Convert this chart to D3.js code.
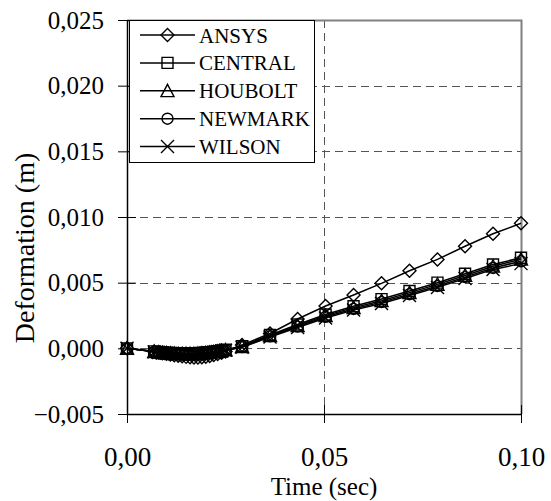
<!DOCTYPE html>
<html><head><meta charset="utf-8">
<script src="https://cdn.jsdelivr.net/npm/d3@7"></script>
<style>body{margin:0;background:#fff;} svg{display:block;} text{font-family:"Liberation Serif","Times New Roman",Times,serif;}</style>
</head><body>
<svg id="c" width="551" height="501"></svg>
<script>
const seriesNames = ["ANSYS","CENTRAL","HOUBOLT","NEWMARK","WILSON"];
const markerTypes = ["diamond","square","triangle","circle","cross"];
const time = [0, 0.0069,
              0.008, 0.009, 0.010, 0.011, 0.012, 0.013, 0.014, 0.015, 0.016, 0.017, 0.018, 0.019, 0.020, 0.021, 0.022, 0.023, 0.024, 0.025,
              0.0292, 0.0363, 0.0433, 0.0504, 0.0575, 0.0646, 0.0717, 0.0788, 0.0858, 0.0929, 0.1000];
const ansys   = [0, -0.00025,
                 -0.00032, -0.00037, -0.00042, -0.00047, -0.00052, -0.00057, -0.00061, -0.00065, -0.00068, -0.00070, -0.00070, -0.00068, -0.00064, -0.00058, -0.00051, -0.00043, -0.00034, -0.00024,
                 0.00025, 0.00113, 0.00223, 0.00322, 0.00406, 0.00495, 0.00591, 0.00677, 0.00777, 0.00872, 0.00952];
const central = [0, -0.00023,
                 -0.00028, -0.00031, -0.00034, -0.00036, -0.00038, -0.00039, -0.00040, -0.00040, -0.00040, -0.00039, -0.00037, -0.00035, -0.00032, -0.00029, -0.00025, -0.00021, -0.00016, -0.00011,
                 0.00016, 0.00102, 0.00182, 0.00258, 0.00320, 0.00375, 0.00436, 0.00500, 0.00568, 0.00638, 0.00690];
const houbolt = [0, -0.00025,
                 -0.00030, -0.00033, -0.00036, -0.00038, -0.00040, -0.00041, -0.00042, -0.00042, -0.00042, -0.00041, -0.00039, -0.00037, -0.00034, -0.00031, -0.00027, -0.00023, -0.00018, -0.00013,
                 0.00013, 0.00097, 0.00173, 0.00249, 0.00310, 0.00363, 0.00424, 0.00487, 0.00555, 0.00625, 0.00678];
const newmark = [0, -0.00026,
                 -0.00031, -0.00034, -0.00037, -0.00039, -0.00041, -0.00042, -0.00043, -0.00043, -0.00043, -0.00042, -0.00040, -0.00038, -0.00035, -0.00032, -0.00028, -0.00024, -0.00019, -0.00014,
                 0.00010, 0.00091, 0.00165, 0.00240, 0.00300, 0.00352, 0.00412, 0.00474, 0.00542, 0.00612, 0.00663];
const wilson  = [0, -0.00027,
                 -0.00032, -0.00035, -0.00038, -0.00040, -0.00042, -0.00043, -0.00044, -0.00044, -0.00044, -0.00043, -0.00041, -0.00039, -0.00036, -0.00033, -0.00029, -0.00025, -0.00020, -0.00015,
                 0.00008, 0.00086, 0.00158, 0.00231, 0.00291, 0.00342, 0.00402, 0.00464, 0.00532, 0.00601, 0.00645];
const seriesValues = [ansys, central, houbolt, newmark, wilson];
const yTicks = [-0.005, 0.000, 0.005, 0.010, 0.015, 0.020, 0.025];
const xTicks = [0.00, 0.05, 0.10];
const yTitle = "Deformation (m)";
const xTitle = "Time (sec)";

const svg = d3.select("#c");
const L = 127, R = 521, T = 20, B = 414;
const x = d3.scaleLinear().domain([0, 0.1]).range([L, R]);
const y = d3.scaleLinear().domain([-0.005, 0.025]).range([B, T]);
const font = "Liberation Serif";

// gridlines
const grid = svg.append("g");
grid.selectAll("line.h").data(yTicks.filter(v => v > -0.005 && v < 0.025)).join("line")
  .attr("x1", L).attr("x2", R).attr("y1", d => Math.round(y(d)) + 0.5).attr("y2", d => Math.round(y(d)) + 0.5)
  .attr("stroke", "#555").attr("stroke-width", 1).attr("stroke-dasharray", "8,5");
grid.selectAll("line.v").data([0.05]).join("line")
  .attr("y1", T).attr("y2", B).attr("x1", d => Math.round(x(d)) + 0.5).attr("x2", d => Math.round(x(d)) + 0.5)
  .attr("stroke", "#555").attr("stroke-width", 1).attr("stroke-dasharray", "8,5");

// plot border (top and right) gray
svg.append("path").attr("d", `M${L},${T + 0.5}H${R + 0.5}V${B}`).attr("fill", "none").attr("stroke", "#808080").attr("stroke-width", 2);

// axes
const fmtY = d => d3.format(".3f")(d).replace(".", ",");
const fmtX = d => d3.format(".2f")(d).replace(".", ",");
const yAxis = svg.append("g").attr("transform", `translate(${L},0)`)
  .call(d3.axisLeft(y).tickValues(yTicks).tickFormat(fmtY).tickSizeInner(9).tickSizeOuter(0).tickPadding(14));
yAxis.attr("font-family", null).attr("font-size", null);
yAxis.select(".domain").attr("stroke", "#000").attr("stroke-width", 1.5);
yAxis.selectAll(".tick line").attr("x2", 9).attr("x1", -9).attr("stroke", "#000");
yAxis.selectAll(".tick text").style("font-family", font).style("font-size", "25px").attr("fill", "#000").attr("x", -23);

const xAxis = svg.append("g").attr("transform", `translate(0,${B})`)
  .call(d3.axisBottom(x).tickValues(xTicks).tickFormat(fmtX).tickSizeInner(9).tickSizeOuter(0).tickPadding(14));
xAxis.attr("font-family", null).attr("font-size", null);
xAxis.select(".domain").attr("stroke", "#000").attr("stroke-width", 1.5);
xAxis.selectAll(".tick line").attr("y1", -9).attr("y2", 9).attr("stroke", "#000");
xAxis.selectAll(".tick text").style("font-family", font).style("font-size", "27px").attr("fill", "#000").attr("dy", null).attr("y", 52);

svg.append("text").attr("x", (L + R) / 2).attr("y", 495).attr("text-anchor", "middle")
  .style("font-family", font).style("font-size", "25px").text(xTitle);
svg.append("text").attr("transform", `translate(34,248) rotate(-90)`).attr("text-anchor", "middle")
  .style("font-family", font).style("font-size", "28px").text(yTitle);

// markers
function markerPath(type, cx, cy) {
  switch (type) {
    case "diamond": { const r = 6.5; return `M${cx},${cy - r}L${cx + r},${cy}L${cx},${cy + r}L${cx - r},${cy}Z`; }
    case "square": { const r = 5.5; return `M${cx - r},${cy - r}H${cx + r}V${cy + r}H${cx - r}Z`; }
    case "triangle": { const r = 6.5; return `M${cx},${cy - r}L${cx + r},${cy + r * 0.9}L${cx - r},${cy + r * 0.9}Z`; }
    case "circle": { const r = 5.5; return `M${cx - r},${cy}A${r},${r} 0 1,0 ${cx + r},${cy}A${r},${r} 0 1,0 ${cx - r},${cy}Z`; }
    case "cross": { const r = 6.5; return `M${cx - r},${cy - r}L${cx + r},${cy + r}M${cx + r},${cy - r}L${cx - r},${cy + r}`; }
  }
}

const line = d3.line().x(d => x(d[0])).y(d => y(d[1]));
seriesValues.forEach((vals, i) => {
  const pts = time.map((t, j) => [t, vals[j]]);
  const g = svg.append("g");
  g.append("path").attr("d", line(pts)).attr("fill", "none").attr("stroke", "#000").attr("stroke-width", 1.5);
  g.selectAll("path.m").data(pts).join("path").attr("class", "m")
    .attr("d", d => markerPath(markerTypes[i], x(d[0]), y(d[1])))
    .attr("fill", "none").attr("stroke", "#000").attr("stroke-width", 1.4);
});

// legend
const lg = svg.append("g");
lg.append("rect").attr("x", 129.5).attr("y", 20.5).attr("width", 185).attr("height", 142)
  .attr("fill", "#fff").attr("stroke", "#000").attr("stroke-width", 1);
seriesNames.forEach((name, i) => {
  const cy = 35 + i * 27.9;
  lg.append("line").attr("x1", 140).attr("x2", 195).attr("y1", cy).attr("y2", cy).attr("stroke", "#000").attr("stroke-width", 1.5);
  lg.append("path").attr("d", markerPath(markerTypes[i], 167.5, cy)).attr("fill", "none").attr("stroke", "#000").attr("stroke-width", 1.4);
  lg.append("text").attr("x", 199).attr("y", cy + 7.5).style("font-family", font).style("font-size", "21px").text(name);
});
</script>
</body></html>
